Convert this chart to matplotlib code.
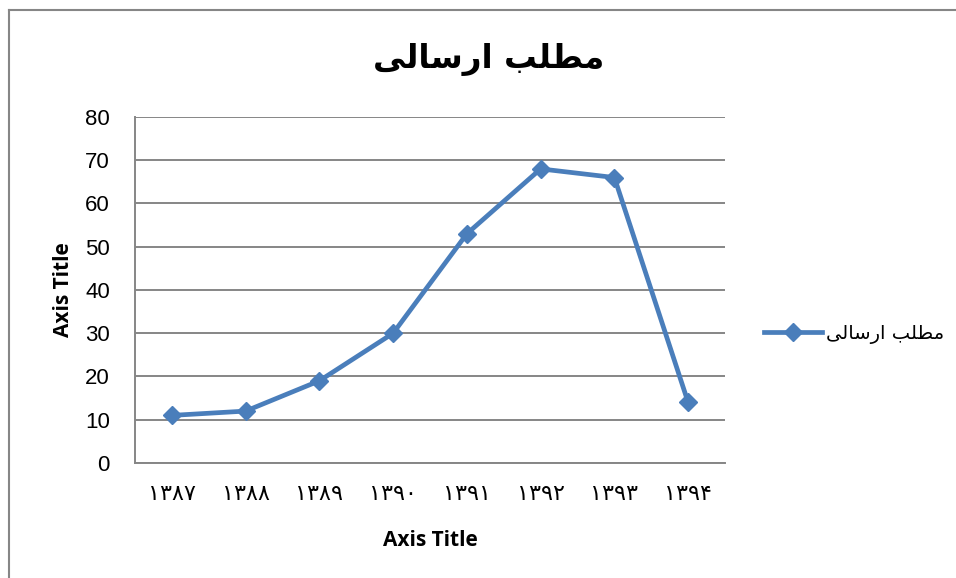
import matplotlib
matplotlib.use("Agg")
import matplotlib.pyplot as plt
from matplotlib.lines import Line2D

# data
YEARS = ["۱۳۸۷", "۱۳۸۸", "۱۳۸۹", "۱۳۹۰", "۱۳۹۱", "۱۳۹۲", "۱۳۹۳", "۱۳۹۴"]
SENT = [11, 12, 19, 30, 53, 68, 66, 14]
SERIES_NAME = "مطلب ارسالی"
TITLE = "مطلب ارسالی"
X_TITLE = "Axis Title"
Y_TITLE = "Axis Title"
Y_TICKS = [0, 10, 20, 30, 40, 50, 60, 70, 80]

BLUE = "#4A7EBB"
GRID = "#868686"

# Arabic presentation forms: isolated, final, initial, medial
FORMS = {
    "م": ("\uFEE1", "\uFEE2", "\uFEE3", "\uFEE4"),
    "ط": ("\uFEC1", "\uFEC2", "\uFEC3", "\uFEC4"),
    "ل": ("\uFEDD", "\uFEDE", "\uFEDF", "\uFEE0"),
    "ب": ("\uFE8F", "\uFE90", "\uFE91", "\uFE92"),
    "ا": ("\uFE8D", "\uFE8E", "\uFE8D", "\uFE8E"),
    "ر": ("\uFEAD", "\uFEAE", "\uFEAD", "\uFEAE"),
    "س": ("\uFEB1", "\uFEB2", "\uFEB3", "\uFEB4"),
    "ی": ("\uFEEF", "\uFEF0", "\uFBFE", "\uFBFF"),
}
RIGHT_ONLY = {"ا", "ر"}


def shape(text):
    # minimal contextual shaping + right-to-left ordering for matplotlib
    out = []
    for i, ch in enumerate(text):
        if ch not in FORMS:
            out.append(ch)
            continue
        prev = text[i - 1] if i > 0 else None
        nxt = text[i + 1] if i + 1 < len(text) else None
        join_prev = prev in FORMS and prev not in RIGHT_ONLY
        join_next = nxt in FORMS and ch not in RIGHT_ONLY
        iso, fin, ini, med = FORMS[ch]
        if join_prev and join_next:
            out.append(med)
        elif join_prev:
            out.append(fin)
        elif join_next:
            out.append(ini)
        else:
            out.append(iso)
    return "".join(reversed(out))


fig = plt.figure(figsize=(9.56, 5.78), dpi=100)
ax = fig.add_axes([0.1412, 0.199, 0.6172, 0.5986])

x = [i + 0.5 for i in range(len(YEARS))]
ax.plot(x, SENT, color=BLUE, lw=3.4, marker="D", markersize=9.5,
        markerfacecolor=BLUE, markeredgecolor=BLUE, label=shape(SERIES_NAME),
        solid_joinstyle="round", zorder=3)

ax.set_xlim(0, len(YEARS))
ax.set_ylim(0, 80)
ax.set_yticks(Y_TICKS)
ax.set_yticklabels([str(v) for v in Y_TICKS], fontsize=16, family="Liberation Sans")
ax.set_xticks(x)
ax.set_xticklabels(YEARS, fontsize=16, family="DejaVu Sans")
ax.tick_params(axis="both", length=0)
ax.tick_params(axis="x", pad=15)
ax.tick_params(axis="y", pad=18)

ax.yaxis.grid(True, color=GRID, lw=1.4)
ax.set_axisbelow(True)
for side in ("top", "right"):
    ax.spines[side].set_visible(False)
for side in ("left", "bottom"):
    ax.spines[side].set_color(GRID)
    ax.spines[side].set_linewidth(1.4)

ax.set_xlabel(X_TITLE, fontsize=15, fontweight="bold", family="Open Sans", labelpad=19)
ax.set_ylabel(Y_TITLE, fontsize=15, fontweight="bold", family="Open Sans", labelpad=8)

fig.text(0.5115, 0.897, shape(TITLE), fontsize=23.5, fontweight="bold",
         family="DejaVu Sans", ha="center", va="center")

ax.legend(loc="center left", bbox_to_anchor=(0.799, 0.422),
          bbox_transform=fig.transFigure, frameon=False,
          prop={"family": "DejaVu Sans", "size": 14},
          handlelength=3.0, handletextpad=0.2, borderpad=0, borderaxespad=0)

# chart-area border (left and top edges visible in the reference)
fig.add_artist(Line2D([0.0094, 0.0094], [0, 0.983], transform=fig.transFigure, color=GRID, lw=1.5))
fig.add_artist(Line2D([0.0094, 1.0], [0.983, 0.983], transform=fig.transFigure, color=GRID, lw=1.5))

fig.savefig("out.png", dpi=100)
